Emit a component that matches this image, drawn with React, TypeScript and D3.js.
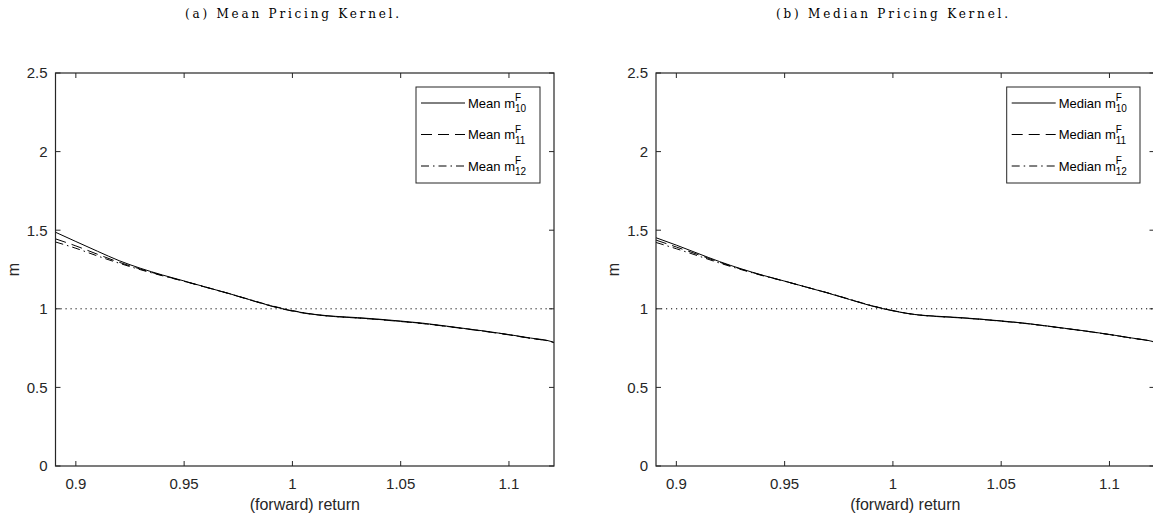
import React from "react";
import * as d3 from "d3";

const returns = [0.8906, 0.9, 0.91, 0.92, 0.93, 0.94, 0.95, 0.96, 0.97, 0.98, 0.99, 1.0, 1.01, 1.02, 1.03, 1.04, 1.05, 1.06, 1.07, 1.08, 1.09, 1.1, 1.11, 1.12, 1.1208];

const meanM10 = [1.487, 1.428, 1.366, 1.306, 1.257, 1.215, 1.177, 1.138, 1.1, 1.059, 1.019, 0.987, 0.965, 0.952, 0.944, 0.934, 0.922, 0.909, 0.892, 0.874, 0.856, 0.836, 0.814, 0.79, 0.786];
const meanM11 = [1.445, 1.4, 1.347, 1.296, 1.252, 1.212, 1.175, 1.137, 1.099, 1.058, 1.018, 0.985, 0.963, 0.95, 0.941, 0.931, 0.919, 0.906, 0.89, 0.872, 0.854, 0.834, 0.812, 0.789, 0.785];
const meanM12 = [1.425, 1.385, 1.336, 1.29, 1.248, 1.21, 1.175, 1.138, 1.1, 1.06, 1.021, 0.989, 0.964, 0.95, 0.942, 0.932, 0.92, 0.907, 0.89, 0.873, 0.855, 0.835, 0.812, 0.788, 0.784];

const medianM10 = [1.452, 1.405, 1.352, 1.3, 1.254, 1.213, 1.176, 1.138, 1.1, 1.059, 1.019, 0.987, 0.964, 0.953, 0.945, 0.935, 0.923, 0.91, 0.893, 0.875, 0.857, 0.837, 0.815, 0.792, 0.789];
const medianM11 = [1.437, 1.393, 1.345, 1.296, 1.252, 1.212, 1.176, 1.138, 1.101, 1.06, 1.02, 0.988, 0.963, 0.951, 0.943, 0.933, 0.921, 0.908, 0.892, 0.874, 0.856, 0.836, 0.814, 0.791, 0.788];
const medianM12 = [1.422, 1.382, 1.337, 1.291, 1.249, 1.21, 1.175, 1.138, 1.101, 1.061, 1.021, 0.989, 0.964, 0.952, 0.944, 0.934, 0.922, 0.909, 0.892, 0.874, 0.856, 0.836, 0.814, 0.791, 0.788];

const xTicks = [0.9, 0.95, 1, 1.05, 1.1];
const yTicks = [0, 0.5, 1, 1.5, 2, 2.5];
const seriesSubs = ["10", "11", "12"];
const panelTitles = ["(a) Mean Pricing Kernel.", "(b) Median Pricing Kernel."];
const panelPrefixes = ["Mean", "Median"];
const xLabel = "(forward) return";
const yLabel = "m";
const refLevel = 1;

const W = 1153;
const H = 518;
const AX = "#262626";
const SANS = "'Liberation Sans', Arial, Helvetica, sans-serif";
const SERIF = "'DejaVu Serif', 'Liberation Serif', serif";
const dashes = [null, "11 6", "8 4 1.5 4"];

type PanelProps = {
  idx: number;
  left: number;
  series: number[][];
  prefix: string;
  legendLeft: number;
  legendWidth: number;
};

function Panel({ idx, left, series, prefix, legendLeft, legendWidth }: PanelProps) {
  const width = 498.5;
  const top = 73;
  const bottom = 466;
  const x = d3.scaleLinear().domain([0.8906, 1.1208]).range([left, left + width]);
  const y = d3.scaleLinear().domain([0, 2.5]).range([bottom, top]);
  const line = d3
    .line<[number, number]>()
    .x((d) => x(d[0]))
    .y((d) => y(d[1]))
    .curve(d3.curveMonotoneX);
  const clipId = `clip${idx}`;
  const tl = 5;
  const legTop = 87;
  const legBottom = 183;
  const rows = [103, 134.5, 166];
  return (
    <g>
      <defs>
        <clipPath id={clipId}>
          <rect x={left} y={top} width={width} height={bottom - top} />
        </clipPath>
      </defs>
      <rect x={left} y={top} width={width} height={bottom - top} fill="white" />
      <line
        x1={x.range()[0]}
        x2={x.range()[1]}
        y1={y(refLevel)}
        y2={y(refLevel)}
        stroke="#000"
        strokeWidth={1}
        strokeDasharray="1.2 3.8"
      />
      <g clipPath={`url(#${clipId})`}>
        {series.map((s, i) => (
          <path
            key={i}
            d={line(returns.map((r, j) => [r, s[j]] as [number, number])) || ""}
            fill="none"
            stroke="#000"
            strokeWidth={1}
            strokeDasharray={dashes[i] || undefined}
          />
        ))}
      </g>
      <rect x={left} y={top} width={width} height={bottom - top} fill="none" stroke={AX} strokeWidth={1.2} />
      {xTicks.map((t) => (
        <g key={t}>
          <line x1={x(t)} x2={x(t)} y1={bottom} y2={bottom - tl} stroke={AX} strokeWidth={1} />
          <line x1={x(t)} x2={x(t)} y1={top} y2={top + tl} stroke={AX} strokeWidth={1} />
          <text x={x(t)} y={489} textAnchor="middle" fontFamily={SANS} fontSize={15} fill={AX}>
            {String(t)}
          </text>
        </g>
      ))}
      {yTicks.map((t) => (
        <g key={t}>
          <line x1={left} x2={left + tl} y1={y(t)} y2={y(t)} stroke={AX} strokeWidth={1} />
          <line x1={left + width} x2={left + width - tl} y1={y(t)} y2={y(t)} stroke={AX} strokeWidth={1} />
          <text x={left - 8} y={y(t) + 5.3} textAnchor="end" fontFamily={SANS} fontSize={15} fill={AX}>
            {String(t)}
          </text>
        </g>
      ))}
      <text x={left + width / 2} y={510} textAnchor="middle" fontFamily={SANS} fontSize={16} fill={AX}>
        {xLabel}
      </text>
      <text
        transform={`translate(${left - 37},${y(1.25)}) rotate(-90)`}
        textAnchor="middle"
        fontFamily={SANS}
        fontSize={16}
        fill={AX}
      >
        {yLabel}
      </text>
      <rect x={legendLeft} y={legTop} width={legendWidth} height={legBottom - legTop} fill="white" stroke={AX} strokeWidth={1} />
      {seriesSubs.map((sub, i) => (
        <g key={sub}>
          <line
            x1={legendLeft + 5}
            x2={legendLeft + 49}
            y1={rows[i]}
            y2={rows[i]}
            stroke="#000"
            strokeWidth={1}
            strokeDasharray={dashes[i] || undefined}
          />
          <text x={legendLeft + 52} y={rows[i] + 4.6} fontFamily={SANS} fontSize={13} fill="#000">
            <tspan>{`${prefix} m`}</tspan>
            <tspan dy={-6.5} fontSize={10}>F</tspan>
            <tspan dx={-6.1} dy={11} fontSize={10}>{sub}</tspan>
          </text>
        </g>
      ))}
    </g>
  );
}

export default function App() {
  const panels = [
    { left: 55.5, series: [meanM10, meanM11, meanM12], legendLeft: 416, legendWidth: 124, titleX: 292 },
    { left: 656, series: [medianM10, medianM11, medianM12], legendLeft: 1006.7, legendWidth: 133.3, titleX: 892 },
  ];
  return (
    <svg
      width={W}
      height={H}
      viewBox={`0 0 ${W} ${H}`}
      style={{ position: "absolute", left: 0, top: 0, background: "white" }}
    >
      <rect x={0} y={0} width={W} height={H} fill="white" />
      {panels.map((p, i) => (
        <g key={i}>
          <text
            x={p.titleX}
            y={17.5}
            textAnchor="middle"
            fontFamily={SERIF}
            fontSize={12}
            fill="#000"
            textLength={i === 0 ? 214 : 232}
            lengthAdjust="spacing"
          >
            {panelTitles[i]}
          </text>
          <Panel
            idx={i}
            left={p.left}
            series={p.series}
            prefix={panelPrefixes[i]}
            legendLeft={p.legendLeft}
            legendWidth={p.legendWidth}
          />
        </g>
      ))}
    </svg>
  );
}
